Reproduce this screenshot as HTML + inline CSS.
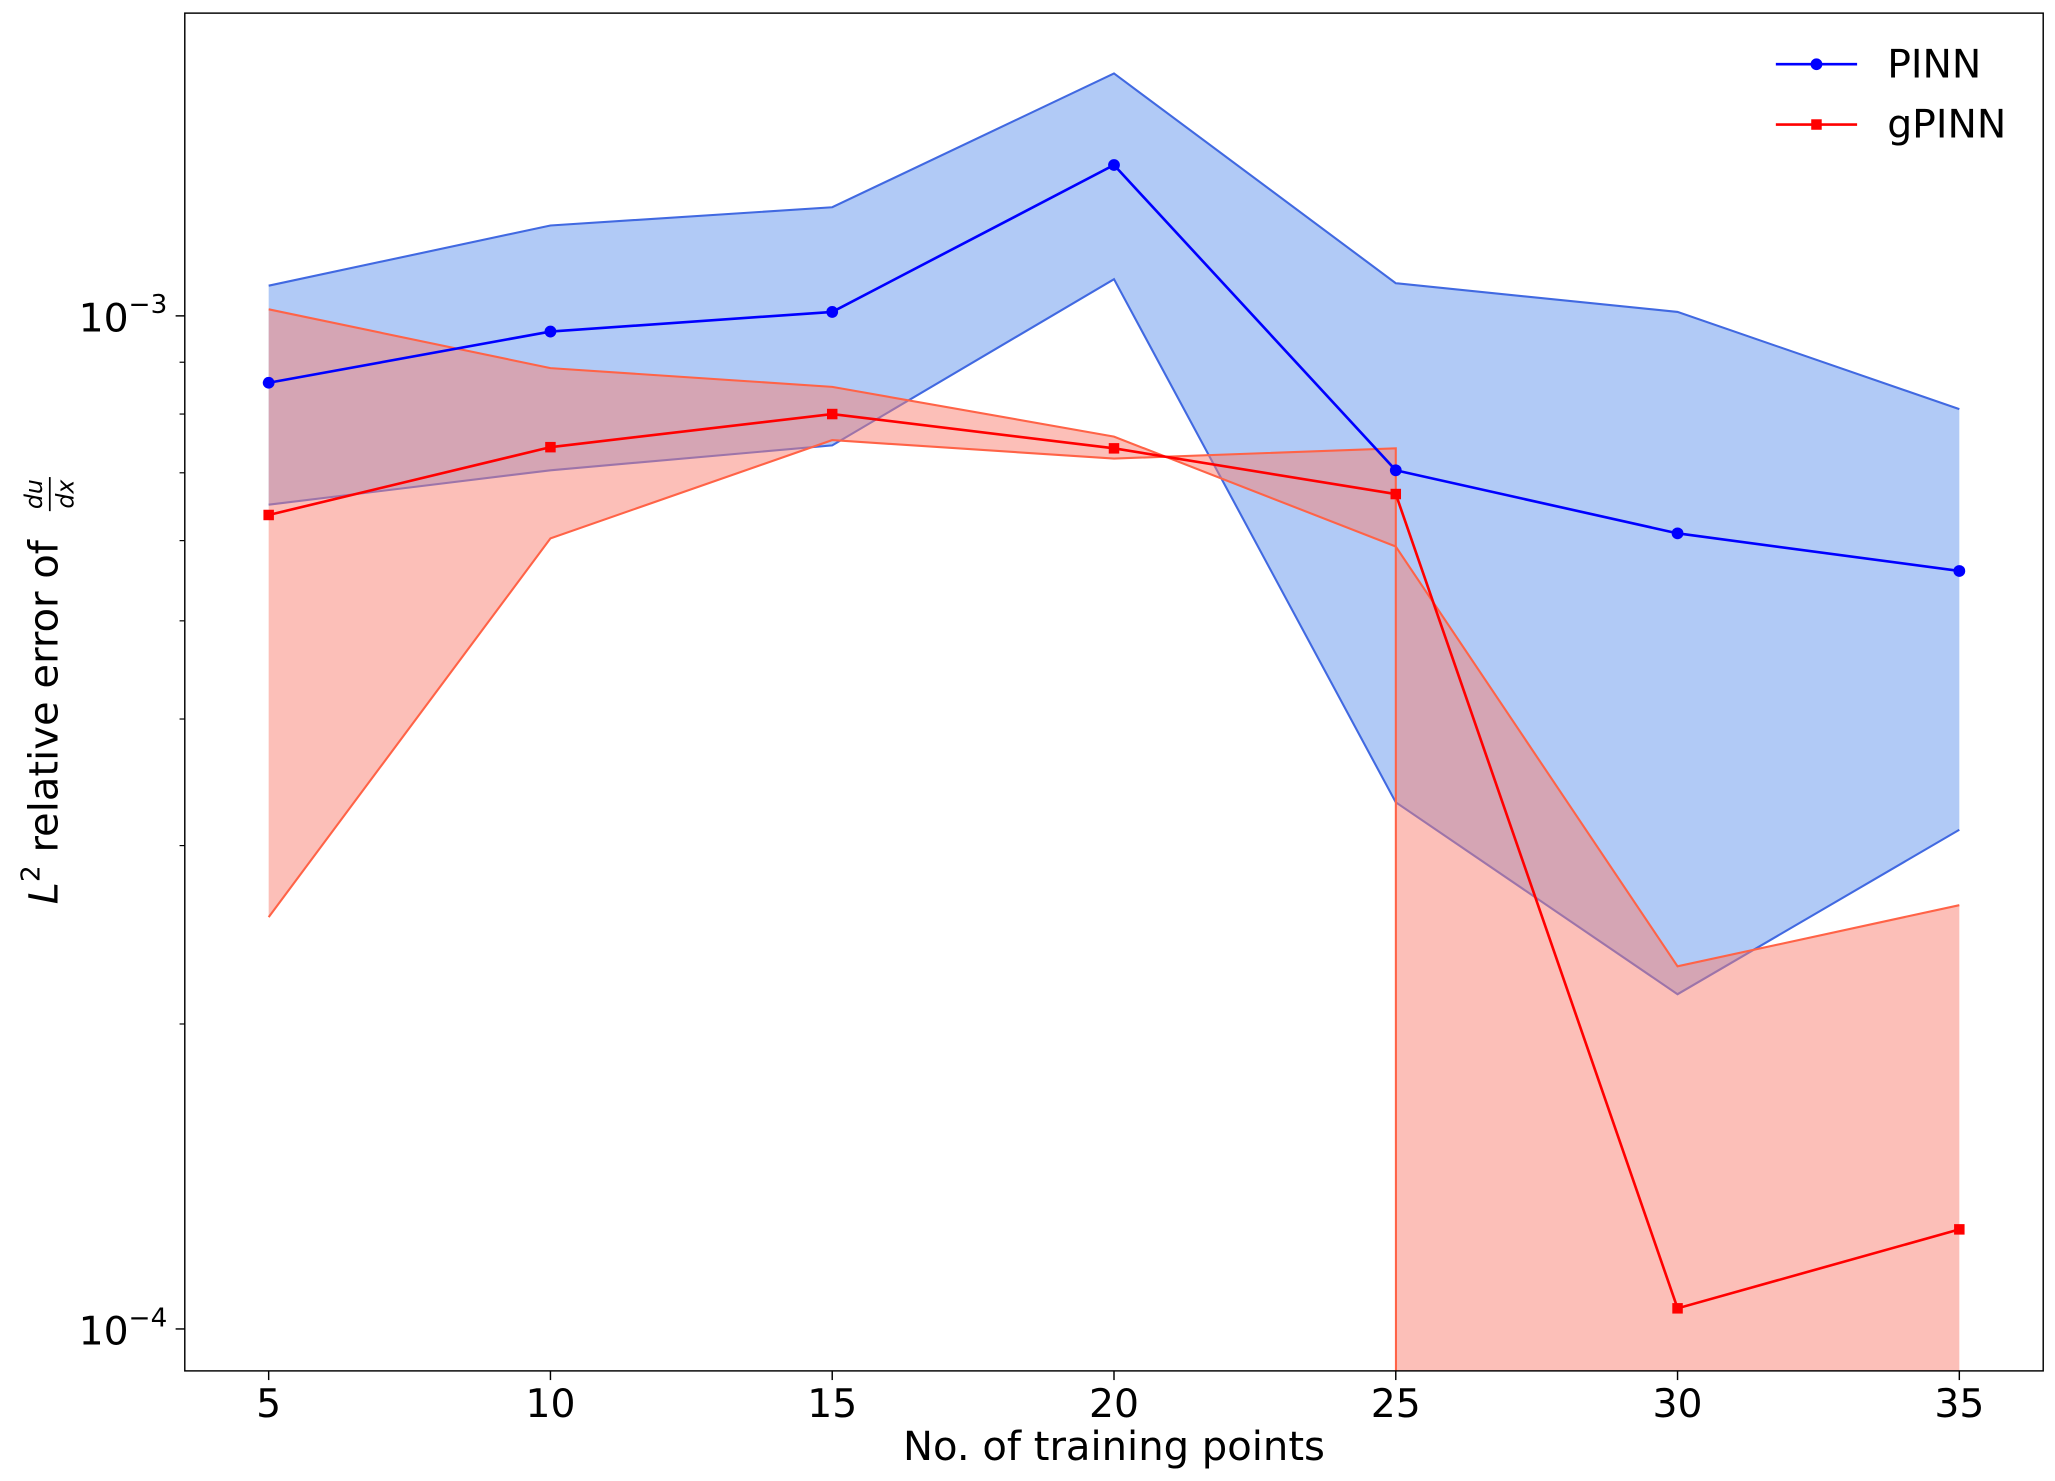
<!DOCTYPE html>
<html><head><meta charset="utf-8"><style>html,body{margin:0;padding:0;background:#fff;overflow:hidden;width:2055px;height:1481px}svg{display:block}text{font-family:"DejaVu Sans","Liberation Sans",sans-serif}</style></head>
<body>
<svg id="chart" width="2055" height="1481" viewBox="0 0 1568 1130" xmlns="http://www.w3.org/2000/svg">
<defs><clipPath id="clip"><rect x="141" y="10" width="1418" height="1036"/></clipPath></defs>
<rect x="0" y="0" width="1568" height="1130" fill="#fff"/>
<g id="plot" clip-path="url(#clip)"></g>
<g id="axes"></g>
<rect x="141" y="10" width="1418" height="1036" fill="none" stroke="#000" stroke-width="1.1"/>
<text x="850" y="1114" font-size="30.6" text-anchor="middle">No. of training points</text>
<g transform="translate(44,528) rotate(-90)">
  <text x="-162" y="0" font-size="30.6"><tspan font-style="italic">L</tspan><tspan font-size="20" dy="-14">2</tspan><tspan dy="14"> relative error of</tspan></text>
  <text x="151" y="-12" font-size="18" font-style="italic" text-anchor="middle">du</text>
  <line x1="138" y1="-6" x2="164" y2="-6" stroke="#000" stroke-width="1.3"/>
  <text x="151" y="12" font-size="18" font-style="italic" text-anchor="middle">dx</text>
</g>
<g id="legend">
  <g>
    <line x1="1355" y1="49" x2="1417" y2="49" stroke="#0000ff" stroke-width="2"/>
    <circle cx="1386" cy="49" r="4.5" fill="#0000ff"/>
    <text x="1440" y="59" font-size="30">PINN</text>
  </g>
  <g>
    <line x1="1355" y1="95" x2="1417" y2="95" stroke="#ff0000" stroke-width="2"/>
    <rect x="1382" y="91" width="8" height="8" fill="#ff0000"/>
    <text x="1440" y="105" font-size="30">gPINN</text>
  </g>
</g>
</svg>
<script>
const xValues = [5, 10, 15, 20, 25, 30, 35];
const xTicks = [5, 10, 15, 20, 25, 30, 35];
const pinnMean = [8.59e-4, 9.65e-4, 1.009e-3, 1.409e-3, 7.04e-4, 6.10e-4, 5.60e-4];
const pinnUpper = [1.071e-3, 1.228e-3, 1.28e-3, 1.735e-3, 1.077e-3, 1.009e-3, 8.09e-4];
const pinnLower = [6.51e-4, 7.04e-4, 7.45e-4, 1.087e-3, 3.31e-4, 2.14e-4, 3.11e-4];
const gpinnMean = [6.36e-4, 7.42e-4, 8.0e-4, 7.40e-4, 6.67e-4, 1.048e-4, 1.254e-4];
const gpinnUpper = [1.015e-3, 8.88e-4, 8.51e-4, 7.60e-4, 5.92e-4, 2.28e-4, 2.62e-4];
const gpinnLower = [2.55e-4, 6.03e-4, 7.54e-4, 7.23e-4, 7.40e-4, 0, 0];
const yMajorExp = [-4, -3];

const NS = 'http://www.w3.org/2000/svg';
function xs(v){ return 205 + (v - 5) * 43; }
function ys(v){ if (v <= 0) return 1e6; return 241 - (Math.log10(v) + 3) * 773; }
function mk(tag, attrs, parent){ const e = document.createElementNS(NS, tag); for (const k in attrs) e.setAttribute(k, attrs[k]); parent.appendChild(e); return e; }
const plot = document.getElementById('plot');
const axes = document.getElementById('axes');

function band(up, lo, fill, edge, name){
  let pts = xValues.map((x,i)=>xs(x)+','+ys(up[i]));
  let pts2 = xValues.map((x,i)=>xs(x)+','+ys(lo[i])).reverse();
  const p = mk('polygon', {points: pts.concat(pts2).join(' '), fill: fill, 'fill-opacity': 0.5, stroke: 'none'}, plot);
  
  
  [up, lo].forEach((arr, j) => {
    const l = mk('polyline', {points: xValues.map((x,i)=>xs(x)+','+ys(arr[i])).join(' '), fill: 'none', stroke: edge, 'stroke-width': 1.6}, plot);
    
    
  });
}
band(pinnUpper, pinnLower, '#6495ed', '#4169e1', 'pinn');
band(gpinnUpper, gpinnLower, '#fa8072', '#ff6347', 'gpinn');

function series(vals, color, marker, name){
  const l = mk('polyline', {points: xValues.map((x,i)=>xs(x)+','+ys(vals[i])).join(' '), fill: 'none', stroke: color, 'stroke-width': 2}, plot);
  
  
  xValues.forEach((x,i)=>{
    let m;
    if (marker === 'o') m = mk('circle', {cx: xs(x), cy: ys(vals[i]), r: 4.5, fill: color}, plot);
    else m = mk('rect', {x: xs(x)-4, y: ys(vals[i])-4, width: 8, height: 8, fill: color}, plot);
    
    
  });
}
series(pinnMean, '#0000ff', 'o', 'pinn');
series(gpinnMean, '#ff0000', 's', 'gpinn');

xTicks.forEach(t=>{
  const tk = mk('line', {x1: xs(t), y1: 1046, x2: xs(t), y2: 1053, stroke: '#000', 'stroke-width': 1.1}, axes);
  
  
  const tx = mk('text', {x: xs(t), y: 1081, 'font-size': 30, 'text-anchor': 'middle'}, axes);
  tx.textContent = String(t);
  
  
});
yMajorExp.forEach(e=>{
  const y = ys(Math.pow(10, e));
  const tk = mk('line', {x1: 134, y1: y, x2: 141, y2: y, stroke: '#000', 'stroke-width': 1.1}, axes);
  
  
  const tx = mk('text', {x: 60, y: y + 12, 'font-size': 30}, axes);
  
  
  tx.innerHTML = '10<tspan font-size="20" dy="-14">\u2212' + Math.abs(e) + '</tspan>';
  for (let k = 2; k <= 9; k++){
    const v = k * Math.pow(10, e);
    const yy = ys(v);
    if (yy < 10 || yy > 1046) continue;
    const mt = mk('line', {x1: 137, y1: yy, x2: 141, y2: yy, stroke: '#000', 'stroke-width': 0.9}, axes);
    
    
  }
});
</script>
</body></html>
